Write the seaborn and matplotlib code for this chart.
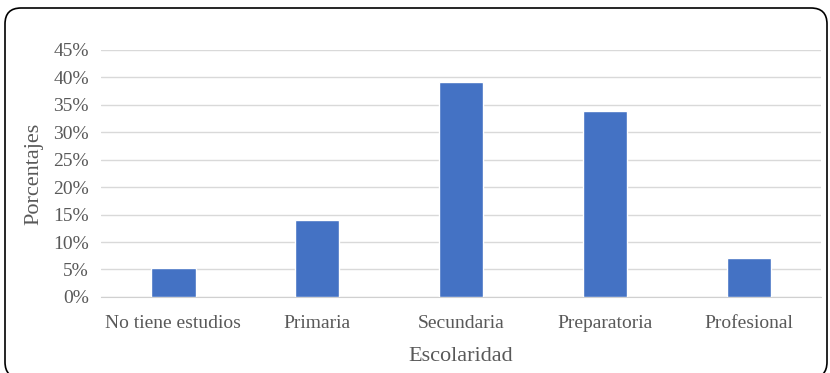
import pandas as pd
import seaborn as sns
import matplotlib.pyplot as plt
from matplotlib.patches import FancyBboxPatch
from matplotlib.transforms import IdentityTransform
from matplotlib.ticker import FuncFormatter

# datos
categorias = ["No tiene estudios", "Primaria", "Secundaria", "Preparatoria", "Profesional"]
porcentajes = [5.2, 14.1, 39.2, 33.8, 7.0]
ticks_y = [0, 5, 10, 15, 20, 25, 30, 35, 40, 45]

df = pd.DataFrame({"Escolaridad": categorias, "Porcentajes": porcentajes})

sns.set_style("white")
plt.rcParams["font.family"] = ["Liberation Serif", "DejaVu Serif"]

fig = plt.figure(figsize=(8.3, 3.73), dpi=100)
ax = fig.add_axes([0.122, 0.204, 0.867, 0.662])

sns.barplot(data=df, x="Escolaridad", y="Porcentajes", color="#4472C4",
            saturation=1, width=0.31, ax=ax, zorder=3)

ax.set_ylim(0, 45)
ax.set_yticks(ticks_y)
ax.yaxis.set_major_formatter(FuncFormatter(lambda v, p: f"{v:.0f}%"))
ax.grid(axis="y", color="#D9D9D9", linewidth=1, zorder=0)
ax.set_axisbelow(True)
for s in ["left", "right", "top"]:
    ax.spines[s].set_visible(False)
ax.spines["bottom"].set_color("#D0D0D0")
ax.tick_params(axis="both", length=0, labelsize=14, colors="#595959")
ax.tick_params(axis="y", pad=9)
ax.tick_params(axis="x", pad=13)
ax.set_xlim(-0.5, 4.5)

ax.set_xlabel("Escolaridad", fontsize=16, color="#595959", labelpad=11)
ax.set_ylabel("Porcentajes", fontsize=16, color="#595959", labelpad=7)

# marco redondeado de la figura
marco = FancyBboxPatch((5, -5), 822, 370, boxstyle="round,pad=0,rounding_size=16",
                       transform=IdentityTransform(), facecolor="none",
                       edgecolor="black", linewidth=1.2)
fig.patches.append(marco)

fig.savefig("out.png", dpi=100)
